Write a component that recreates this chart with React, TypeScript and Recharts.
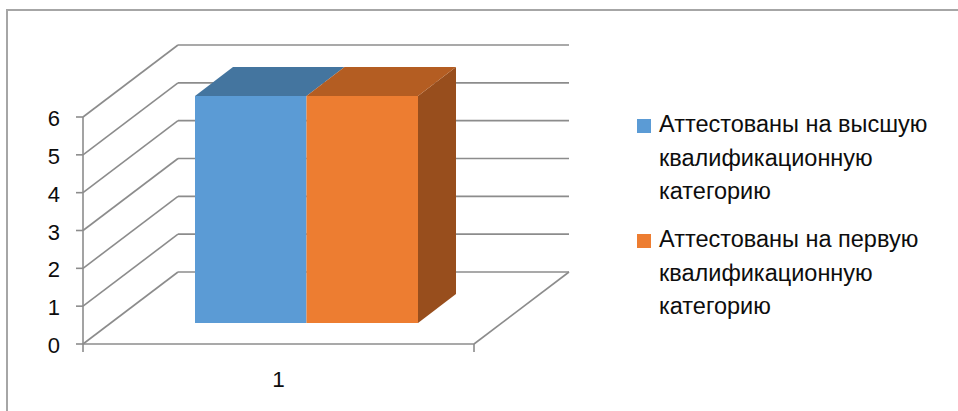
import React from 'react';
import { BarChart, Bar, XAxis, YAxis, CartesianGrid, Legend } from 'recharts';

// ---- data ----
const categories = ['1'];
const highestCategory = [6];
const firstCategory = [6];
const seriesNames = [
  'Аттестованы на высшую квалификационную категорию',
  'Аттестованы на первую квалификационную категорию',
];
const yTicks = [0, 1, 2, 3, 4, 5, 6];

const data = categories.map((c, i) => ({
  name: c,
  s0: highestCategory[i],
  s1: firstCategory[i],
}));

// ---- layout / style ----
const W = 958;
const H = 411;
const YAXIS_W = 83;
const XAXIS_H = 67;
const PLOT_BOTTOM = H - XAXIS_H;
const LEGEND_W = 321;
const MARGIN = { top: 117, right: 484 - LEGEND_W, bottom: 0, left: 0 };
const WALL_DX = 95; // depth offset of the back wall
const WALL_DY = -72;
const BAR_DX = 28; // bars sit part-way into the depth
const BAR_DY = -21;
const BAR_DEPTH_DX = 38;
const BAR_DEPTH_DY = -29;
const LINE = '#8c8c8c';
const FONT = '"Liberation Sans", Arial, sans-serif';

const COLORS = [
  { front: '#5B9BD5', top: '#44759F', side: '#3F6D96' },
  { front: '#ED7D31', top: '#B45D22', side: '#984E1D' },
];

const makeShape = (ci: number, drawSide: boolean) => (props: any) => {
  const { x, y, width, height } = props;
  if (width == null || height == null) return <g />;
  const c = COLORS[ci];
  const fx = x + BAR_DX;
  const fy = y + BAR_DY;
  const top = `${fx},${fy} ${fx + width},${fy} ${fx + width + BAR_DEPTH_DX},${fy + BAR_DEPTH_DY} ${fx + BAR_DEPTH_DX},${fy + BAR_DEPTH_DY}`;
  const side = `${fx + width},${fy} ${fx + width + BAR_DEPTH_DX},${fy + BAR_DEPTH_DY} ${fx + width + BAR_DEPTH_DX},${fy + height + BAR_DEPTH_DY} ${fx + width},${fy + height}`;
  return (
    <g>
      {drawSide && <polygon points={side} fill={c.side} />}
      <polygon points={top} fill={c.top} />
      <rect x={fx} y={fy} width={width} height={height} fill={c.front} />
    </g>
  );
};

const gridLine = (props: any) => {
  const { x1, y1, x2, index } = props;
  const bx1 = x1 + WALL_DX;
  const bx2 = x2 + WALL_DX;
  const by = y1 + WALL_DY;
  const isFloor = Math.abs(y1 - PLOT_BOTTOM) < 1;
  return (
    <g key={`gl-${index}-${y1}`} stroke={LINE} strokeWidth={1.6} fill="none">
      <line x1={x1} y1={y1} x2={bx1} y2={by} />
      <line x1={bx1} y1={by} x2={bx2} y2={by} />
      {isFloor && (
        <>
          <line x1={x1} y1={y1} x2={x2} y2={y1} />
          <line x1={x2} y1={y1} x2={bx2} y2={by} />
          <line x1={x1} y1={y1} x2={x1} y2={y1 + 8} />
          <line x1={x2} y1={y1} x2={x2} y2={y1 + 8} />
        </>
      )}
    </g>
  );
};

const YTick = (props: any) => {
  const { x, y, payload } = props;
  return (
    <text x={x} y={y} dy={9} textAnchor="end" fontSize={22} fontFamily={FONT} fill="#0d0d0d">
      {payload.value}
    </text>
  );
};

const XTick = (props: any) => {
  const { x, y, payload } = props;
  return (
    <text x={x} y={y} textAnchor="middle" fontSize={22.5} fontFamily={FONT} fill="#0d0d0d">
      {payload.value}
    </text>
  );
};

const LegendContent = (props: any) => {
  const { payload } = props;
  return (
    <div style={{ fontFamily: FONT, fontSize: 23.5, lineHeight: '33.5px', color: '#0d0d0d' }}>
      {(payload || []).map((p: any, i: number) => (
        <div key={i} style={{ display: 'flex', alignItems: 'flex-start', marginBottom: 14.5 }}>
          <div style={{ width: 14, height: 14, background: p.color, marginTop: 11, marginRight: 8, flex: 'none' }} />
          <div style={{ width: 295 }}>{p.value}</div>
        </div>
      ))}
    </div>
  );
};

export default function App() {
  return (
    <div style={{ position: 'absolute', left: 0, top: 0, width: W, height: H, background: '#fff', overflow: 'hidden' }}>
      <div
        style={{
          position: 'absolute',
          left: 6,
          top: 9,
          width: W,
          height: H,
          borderLeft: '2px solid #a6a6a6',
          borderTop: '2px solid #a6a6a6',
        }}
      />
      <div style={{ position: 'absolute', left: 0, top: 0 }}>
        <BarChart width={W} height={H} data={data} margin={MARGIN} barGap={0} barSize={111.5}>
          <CartesianGrid horizontal={gridLine} vertical={false} stroke={LINE} />
          <XAxis
            dataKey="name"
            height={XAXIS_H}
            axisLine={false}
            tickLine={false}
            tickSize={0}
            tickMargin={43}
            tick={<XTick />}
          />
          <YAxis
            width={YAXIS_W}
            domain={[0, 6]}
            ticks={yTicks}
            interval={0}
            axisLine={{ stroke: LINE, strokeWidth: 1.6 }}
            tickLine={{ stroke: LINE, strokeWidth: 1.6 }}
            tickSize={7}
            tickMargin={16}
            tick={<YTick />}
          />
          <Legend
            layout="horizontal"
            verticalAlign="middle"
            align="right"
            content={<LegendContent />}
            wrapperStyle={{ left: 637, top: 108, width: LEGEND_W, height: 'auto' }}
          />
          <Bar dataKey="s0" name={seriesNames[0]} fill={COLORS[0].front} shape={makeShape(0, false)} isAnimationActive={false} />
          <Bar dataKey="s1" name={seriesNames[1]} fill={COLORS[1].front} shape={makeShape(1, true)} isAnimationActive={false} />
        </BarChart>
      </div>
    </div>
  );
}
